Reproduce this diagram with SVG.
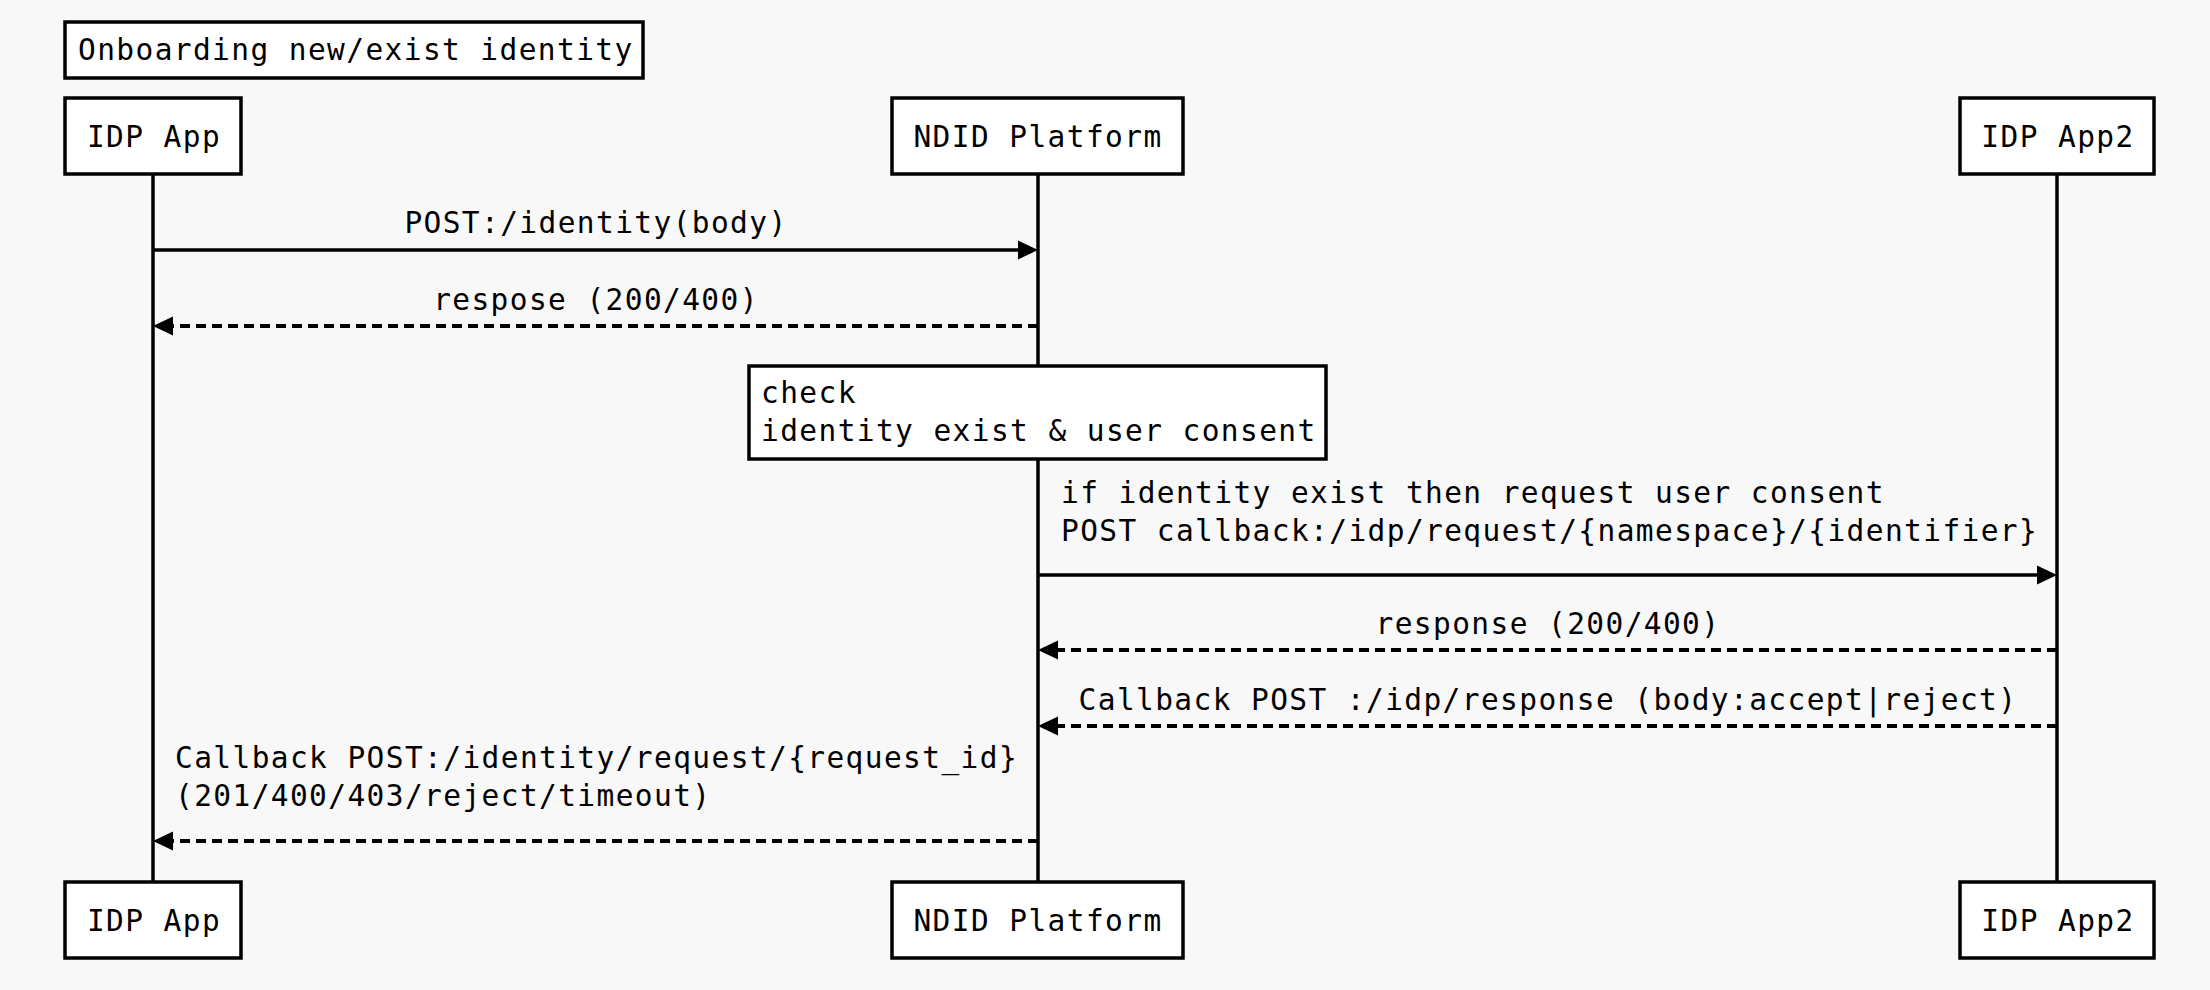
<svg xmlns="http://www.w3.org/2000/svg" width="2210" height="990" viewBox="0 0 2210 990">
  <style>
    .bg { fill: #f8f8f8; }
    .box { fill: #ffffff; stroke: #000000; stroke-width: 3.5; }
    .t { font-family: "DejaVu Sans Mono", "Liberation Mono", monospace; font-size: 29.5px; letter-spacing: 1.4px; fill: #000000; }
    .mid { text-anchor: middle; }
    .life { stroke: #000000; stroke-width: 3.5; fill: none; }
    .solid { stroke: #000000; stroke-width: 3.5; fill: none; }
    .dash { stroke: #000000; stroke-width: 4; fill: none; stroke-dasharray: 10 6; }
    .head { fill: #000000; stroke: none; }
  </style>
  <rect class="bg" x="0" y="0" width="2210" height="990"/>

  <g id="title">
    <rect class="box" x="65" y="22" width="578" height="56"/>
    <text class="t" x="78" y="60">Onboarding new/exist identity</text>
  </g>

  <g id="lifelines">
    <line class="life" x1="153" y1="175" x2="153" y2="882"/>
    <line class="life" x1="1038" y1="175" x2="1038" y2="882"/>
    <line class="life" x1="2057" y1="175" x2="2057" y2="882"/>
  </g>

  <g id="connectors">
    <!-- 1 -->
    <line class="solid" x1="153" y1="250" x2="1020" y2="250"/>
    <polygon class="head" points="1038,250 1018,240.5 1018,259.5"/>
    <text class="t mid" x="596" y="233">POST:/identity(body)</text>
    <!-- 2 -->
    <line class="dash" x1="1038" y1="326" x2="171" y2="326"/>
    <polygon class="head" points="153,326 173,316.5 173,335.5"/>
    <text class="t mid" x="596" y="310">respose (200/400)</text>
    <!-- 4 -->
    <line class="solid" x1="1038" y1="575" x2="2039" y2="575"/>
    <polygon class="head" points="2057,575 2037,565.5 2037,584.5"/>
    <text class="t" x="1061" y="503">if identity exist then request user consent</text>
    <text class="t" x="1061" y="541">POST callback:/idp/request/{namespace}/{identifier}</text>
    <!-- 5 -->
    <line class="dash" x1="2057" y1="650" x2="1056" y2="650"/>
    <polygon class="head" points="1038,650 1058,640.5 1058,659.5"/>
    <text class="t mid" x="1548" y="634">response (200/400)</text>
    <!-- 6 -->
    <line class="dash" x1="2057" y1="726" x2="1056" y2="726"/>
    <polygon class="head" points="1038,726 1058,716.5 1058,735.5"/>
    <text class="t mid" x="1548" y="710">Callback POST :/idp/response (body:accept|reject)</text>
    <!-- 7 -->
    <line class="dash" x1="1038" y1="841" x2="171" y2="841"/>
    <polygon class="head" points="153,841 173,831.5 173,850.5"/>
    <text class="t" x="175" y="768">Callback POST:/identity/request/{request_id}</text>
    <text class="t" x="175" y="806">(201/400/403/reject/timeout)</text>
  </g>

  <g id="note-check">
    <rect class="box" x="749" y="366" width="577" height="93"/>
    <text class="t" x="761" y="403">check</text>
    <text class="t" x="761" y="441">identity exist &amp; user consent</text>
  </g>

  <g id="idp-app-top">
    <rect class="box" x="65" y="98" width="176" height="76"/>
    <text class="t mid" x="154" y="147">IDP App</text>
  </g>
  <g id="ndid-platform-top">
    <rect class="box" x="892" y="98" width="291" height="76"/>
    <text class="t mid" x="1038" y="147">NDID Platform</text>
  </g>
  <g id="idp-app2-top">
    <rect class="box" x="1960" y="98" width="194" height="76"/>
    <text class="t mid" x="2058" y="147">IDP App2</text>
  </g>

  <g id="idp-app-bottom">
    <rect class="box" x="65" y="882" width="176" height="76"/>
    <text class="t mid" x="154" y="931">IDP App</text>
  </g>
  <g id="ndid-platform-bottom">
    <rect class="box" x="892" y="882" width="291" height="76"/>
    <text class="t mid" x="1038" y="931">NDID Platform</text>
  </g>
  <g id="idp-app2-bottom">
    <rect class="box" x="1960" y="882" width="194" height="76"/>
    <text class="t mid" x="2058" y="931">IDP App2</text>
  </g>
</svg>
